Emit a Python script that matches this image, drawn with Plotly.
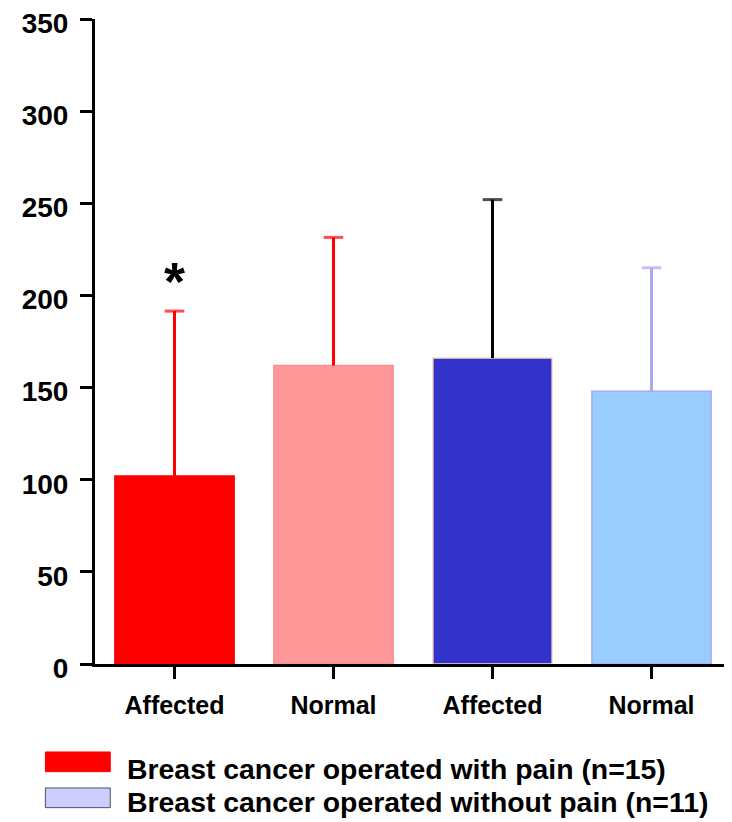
import plotly.graph_objects as go

categories = ["Affected", "Normal", "Affected ", "Normal "]
tick_labels = ["Affected", "Normal", "Affected", "Normal"]
means = [102, 162, 166, 148]
sd_upper = [89.5, 69.5, 86, 67]
bar_colors = ["#ff0000", "#ff9999", "#3333cc", "#99ccff"]
bar_lines = ["#ff0000", "#ff8c8c", "#f5dcc0", "#aaaaee"]
err_colors = ["#ff0000", "#ff0000", "#000000", "#aaaaee"]
legend_labels = ["Breast cancer operated with pain (n=15)",
                 "Breast cancer operated without pain (n=11)"]
legend_fill = ["#ff0000", "#ccccff"]
legend_edge = ["#ff0000", "#445566"]
star_value = 208

FONT = "Liberation Sans, Arial, sans-serif"

fig = go.Figure()
for i in range(len(categories)):
    fig.add_trace(go.Bar(
        x=[categories[i]], y=[means[i]], width=0.75,
        marker=dict(color=bar_colors[i], line=dict(color=bar_lines[i], width=1.5)),
        showlegend=False, hoverinfo="skip",
    ))
for i in range(len(categories)):
    # one-sided (upper) error bar: stem from mean to mean+SD with a cap at the top only
    fig.add_trace(go.Scatter(
        x=[categories[i], categories[i]], y=[means[i], means[i] + sd_upper[i]],
        mode="lines+markers",
        line=dict(color=err_colors[i], width=3),
        marker=dict(symbol="line-ew-open", size=[0, 14],
                    line=dict(color=err_colors[i], width=3), color=err_colors[i]),
        showlegend=False, hoverinfo="skip",
    ))

fig.add_annotation(x=categories[0], y=star_value, text="*", showarrow=False,
                   yanchor="middle", font=dict(family=FONT, size=54, color="black", weight="bold"))

# custom legend
box_tops = [-0.1364, -0.1922]
text_mid = [-0.1628, -0.2140]
for i, lab in enumerate(legend_labels):
    fig.add_shape(type="rect", xref="paper", yref="paper",
                  x0=-0.078, x1=0.024, y0=box_tops[i] - 0.0305, y1=box_tops[i],
                  fillcolor=legend_fill[i], line=dict(color=legend_edge[i], width=1))
    fig.add_annotation(xref="paper", yref="paper", x=0.0473, y=text_mid[i], text=lab,
                       showarrow=False, xanchor="left", yanchor="middle",
                       font=dict(family=FONT, size=28.4, color="black", weight="bold"))

fig.update_layout(
    width=724, height=814,
    margin=dict(l=87, r=1, t=11, b=158, autoexpand=False),
    plot_bgcolor="white", paper_bgcolor="white",
    barmode="overlay",
    font=dict(family=FONT, color="black"),
    xaxis=dict(
        tickmode="array", tickvals=categories, ticktext=tick_labels,
        range=[-0.5, 3.5], showline=True, linecolor="black", linewidth=3,
        ticks="outside", ticklen=12, tickwidth=3, tickcolor="black",
        showgrid=False, zeroline=False, ticklabelstandoff=5, automargin=False,
        tickfont=dict(family=FONT, size=25, color="black", weight="bold"),
    ),
    yaxis=dict(
        range=[0, 350], dtick=50, tick0=0, showline=True, linecolor="black", linewidth=3,
        ticks="outside", ticklen=12, tickwidth=3, tickcolor="black",
        showgrid=False, zeroline=False, ticklabelstandoff=6, ticklabeloverflow="allow",
        ticklabelshift=4, automargin=False,
        tickfont=dict(family=FONT, size=28, color="black", weight="bold"),
    ),
)

fig.write_html("out.html")
